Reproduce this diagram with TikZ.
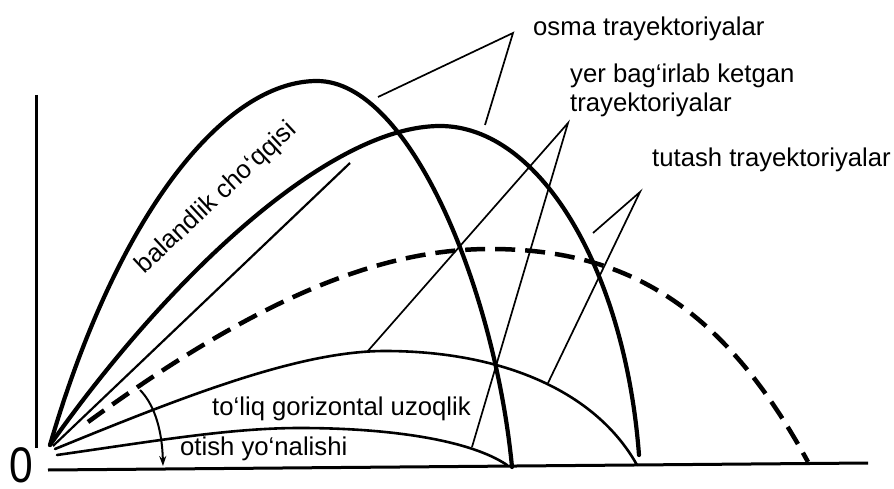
\documentclass[tikz,border=0pt]{standalone}
\usepackage{fontspec}
\setmainfont{Liberation Sans}
\usetikzlibrary{arrows.meta}
\begin{document}
\begin{tikzpicture}[x=1pt,y=-1pt,
  traj/.style={line width=4.2pt, line cap=round},
  thintraj/.style={line width=2.6pt, line cap=round},
  dashtraj/.style={line width=4.5pt, dash pattern=on 20pt off 10pt},
  leader/.style={line width=1.7pt},
  axisline/.style={line width=3pt},
  lbl/.style={font=\fontsize{25.7}{29}\selectfont, inner sep=0pt},
]
\useasboundingbox (0,0) rectangle (894,489);
% axes
\coordinate (ytop) at (36,95);
\coordinate (ybot) at (36,448);
\coordinate (xleft) at (48,470);
\coordinate (xright) at (868,463);
\draw[axisline] (ytop) -- (ybot);
\draw[axisline] (xleft) -- (xright);
\node[font=\fontsize{50}{50}\selectfont, inner sep=0pt, xscale=0.85, anchor=base] (zero) at (21.5,482) {0};

% trajectories
\coordinate (O) at (50,445);
\coordinate (pA) at (317,81);
\coordinate (eA) at (512,467);
\draw[traj] (O) .. controls (118,212) and (225,81) .. (pA)
                .. controls (410,81) and (495,290) .. (eA);
\coordinate (pB) at (440,126);
\coordinate (eB) at (639,455);
\draw[traj] (O) .. controls (170,275) and (330,126) .. (pB)
                .. controls (540,126) and (625,270) .. (eB);
\coordinate (ls) at (53,446);
\coordinate (le) at (350,163);
\draw[line width=2.2pt] (ls) -- (le);
\coordinate (sD) at (88,422);
\coordinate (pD) at (490,249);
\coordinate (eD) at (808,462);
\draw[dashtraj] (sD) .. controls (258,298) and (380,249) .. (pD)
                     .. controls (620,249) and (720,300) .. (eD);
\coordinate (sE) at (55,449);
\coordinate (pE) at (385,351);
\coordinate (eE) at (637,465);
\draw[thintraj] (sE) .. controls (187,395) and (300,351) .. (pE)
                     .. controls (500,351) and (595,390) .. (eE);
\coordinate (sF) at (57,455);
\coordinate (pF) at (300,428);
\coordinate (eF) at (507,465);
\draw[thintraj] (sF) .. controls (155,441) and (230,428) .. (pF)
                     .. controls (390,428) and (470,440) .. (eF);

% angle arrow
\coordinate (arS) at (140,390);
\coordinate (arE) at (163,466);
\draw[line width=2pt, -{Stealth[length=10pt,width=7pt]}] (arS) .. controls (152,402) and (162,425) .. (arE);

% leader lines
\coordinate (v1) at (513,33);
\coordinate (v1a) at (378,97);
\coordinate (v1b) at (485,125);
\draw[leader] (v1a) -- (v1) -- (v1b);
\coordinate (v2) at (568,123);
\coordinate (v2a) at (367,352);
\coordinate (v2b) at (472,447);
\draw[leader] (v2a) -- (v2) -- (v2b);
\coordinate (v3) at (640,192);
\coordinate (v3a) at (593,233);
\coordinate (v3b) at (548,383);
\draw[leader] (v3a) -- (v3) -- (v3b);

% labels
\node[lbl, anchor=base west] (osma) at (533,36) {osma trayektoriyalar};
\node[lbl, anchor=base west, align=left] (yer) at (570,112) {yer bag‘irlab ketgan\\trayektoriyalar};
\node[lbl, anchor=base west] (tutash) at (652,167) {tutash trayektoriyalar};
\node[lbl, anchor=base west] (toliq) at (212,415) {to‘liq gorizontal uzoqlik};
\node[lbl, anchor=base west] (otish) at (180,455) {otish yo‘nalishi};
\node[lbl, anchor=base, rotate=43] (baland) at (221,203) {balandlik cho‘qqisi};
\end{tikzpicture}
\end{document}
